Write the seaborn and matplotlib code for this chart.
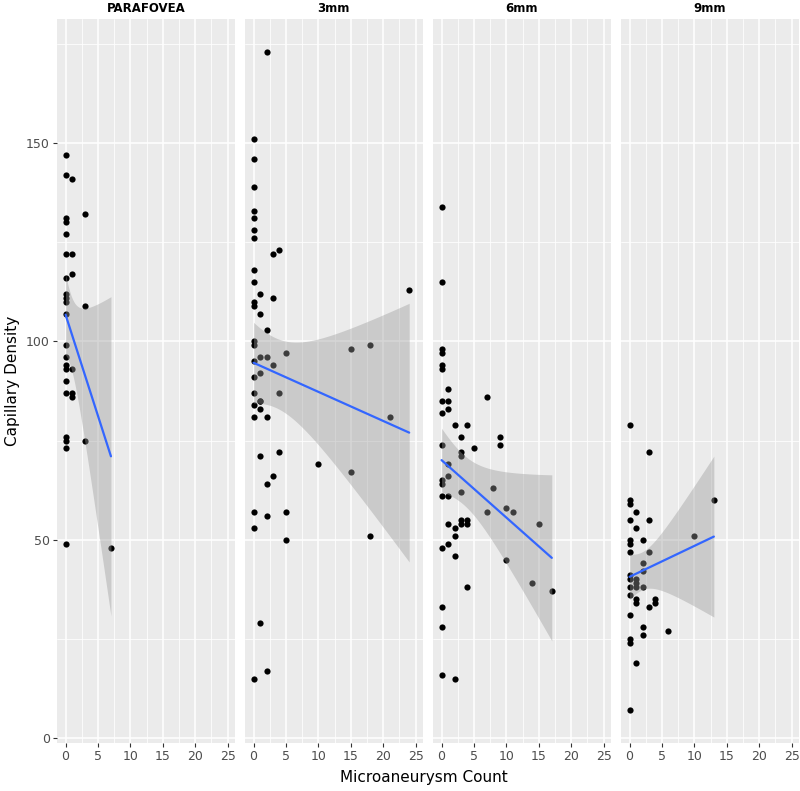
import matplotlib
matplotlib.use("Agg")
import matplotlib.pyplot as plt
import seaborn as sns
import numpy as np
import pandas as pd

# Capillary density vs microaneurysm count, one panel per region

panels = ["PARAFOVEA", "3mm", "6mm", "9mm"]

parafovea_ma = [0, 0, 1, 3, 0, 0, 0, 0, 1, 0, 1, 0, 0, 0, 3, 0, 0, 0, 0, 0, 1,
                0, 0, 1, 1, 0, 0, 3, 0, 0, 7]
parafovea_cd = [147, 142, 141, 132, 131, 130, 127, 122, 122, 116, 117, 112, 111, 110, 109, 107, 99,
                96, 94, 93, 93, 90, 87, 87, 86, 76, 75, 75, 73, 49, 48]

mm3_ma = [2, 0, 0, 0, 0, 0, 0, 0, 4, 3, 0, 0, 1, 3, 24, 0, 0, 1, 2, 0, 0, 15, 18, 5, 1, 2, 0,
          3, 1, 0, 0, 4, 1, 0, 1, 1, 0, 2, 21, 4, 1, 10, 15, 3, 2, 0, 5, 2, 0, 5, 18, 1, 2, 0]
mm3_cd = [173, 151, 146, 139, 133, 131, 128, 126, 123, 122, 118, 115, 112, 111, 113, 110, 109, 107,
          103, 100, 99, 98, 99, 97, 96, 96, 95, 94, 92, 91, 87, 87, 85, 84, 85, 83, 81, 81, 81, 72,
          71, 69, 67, 66, 64, 57, 57, 56, 53, 50, 51, 29, 17, 15]

mm6_ma = [0, 0, 0, 0, 0, 0, 1, 7, 0, 1, 1, 0, 2, 4, 3, 9, 9, 0, 5, 3, 3, 1, 1, 0, 0, 8, 3, 0, 1,
          10, 11, 7, 3, 4, 3, 4, 1, 15, 2, 2, 1, 0, 2, 10, 14, 4, 17, 0, 0, 0, 2]
mm6_cd = [134, 115, 98, 97, 94, 93, 88, 86, 85, 85, 83, 82, 79, 79, 76, 76, 74, 74, 73, 72, 71, 69,
          66, 65, 64, 63, 62, 61, 61, 58, 57, 57, 55, 55, 54, 54, 54, 54, 53, 51, 49, 48, 46, 45,
          39, 38, 37, 33, 28, 16, 15]

mm9_ma = [0, 3, 0, 0, 13, 1, 0, 3, 1, 10, 0, 0, 2, 0, 3, 2, 2, 0, 0, 1, 1, 1, 0, 2, 0, 1, 1, 4,
          4, 3, 0, 2, 2, 6, 0, 0, 1, 0]
mm9_cd = [79, 72, 60, 59, 60, 57, 55, 55, 53, 51, 50, 49, 50, 47, 47, 44, 42, 41, 40, 40, 39, 38,
          38, 38, 36, 35, 34, 35, 34, 33, 31, 28, 26, 27, 25, 24, 19, 7]

x_ticks = [0, 5, 10, 15, 20, 25]
y_ticks = [0, 50, 100, 150]

df = pd.concat([
    pd.DataFrame({"region": "PARAFOVEA", "ma": parafovea_ma, "cd": parafovea_cd}),
    pd.DataFrame({"region": "3mm", "ma": mm3_ma, "cd": mm3_cd}),
    pd.DataFrame({"region": "6mm", "ma": mm6_ma, "cd": mm6_cd}),
    pd.DataFrame({"region": "9mm", "ma": mm9_ma, "cd": mm9_cd}),
])


def t_quantile(dof, z=1.959964):
    # Cornish-Fisher expansion of the 97.5% t quantile
    return (z + (z**3 + z) / (4 * dof)
            + (5 * z**5 + 16 * z**3 + 3 * z) / (96 * dof**2))


def lm_band(x, y, grid):
    # analytic 95% confidence band of an OLS fit (like geom_smooth(method="lm"))
    x = np.asarray(x, float)
    y = np.asarray(y, float)
    n = len(x)
    b1, b0 = np.polyfit(x, y, 1)
    resid = y - (b0 + b1 * x)
    s = np.sqrt(np.sum(resid**2) / (n - 2))
    se = s * np.sqrt(1 / n + (grid - x.mean())**2 / np.sum((x - x.mean())**2))
    fit = b0 + b1 * grid
    t = t_quantile(n - 2)
    return fit - t * se, fit + t * se


sns.set_style("white")
plt.rcParams["font.family"] = ["DejaVu Sans"]

fig = plt.figure(figsize=(8, 7.91), dpi=100)
lefts = [0.071, 0.306, 0.541, 0.776]
axes = [fig.add_axes([l, 0.061, 0.2225, 0.915]) for l in lefts]

for ax, name in zip(axes, panels):
    sub = df[df["region"] == name]
    ax.set_facecolor("#EBEBEB")
    sns.regplot(data=sub, x="ma", y="cd", ax=ax, ci=None,
                scatter_kws={"color": "black", "s": 20, "linewidths": 0, "alpha": 1},
                line_kws={"color": "#3366FF", "lw": 1.6, "zorder": 4})
    grid = np.linspace(sub["ma"].min(), sub["ma"].max(), 80)
    lo, hi = lm_band(sub["ma"], sub["cd"], grid)
    ax.fill_between(grid, lo, hi, color="#999999", alpha=0.4, lw=0, zorder=3)

    ax.set_xlim(-1.35, 26.1)
    ax.set_ylim(-1.2, 181.3)
    ax.set_xticks(x_ticks)
    ax.set_xticks(np.arange(2.5, 26, 5), minor=True)
    ax.set_yticks(y_ticks)
    ax.set_yticks([25, 75, 125, 175], minor=True)
    ax.set_axisbelow(True)
    ax.grid(which="major", color="white", lw=1.1)
    ax.grid(which="minor", color="white", lw=0.55)
    for s in ax.spines.values():
        s.set_visible(False)
    ax.tick_params(which="major", length=3, color="#333333", labelcolor="#4D4D4D",
                   labelsize=9, pad=2, bottom=True, left=True)
    ax.tick_params(which="minor", length=0)
    ax.set_xlabel("")
    ax.set_ylabel("")
    ax.set_title(name, fontsize=8.5, fontweight="bold", color="black", pad=5)
    if ax is not axes[0]:
        ax.tick_params(axis="y", left=False, labelleft=False)

axes[0].set_ylabel("Capillary Density", fontsize=11, color="black", labelpad=4)
fig.text(0.53, 0.012, "Microaneurysm Count", ha="center", fontsize=11, color="black")

fig.savefig("out.png", dpi=100)
